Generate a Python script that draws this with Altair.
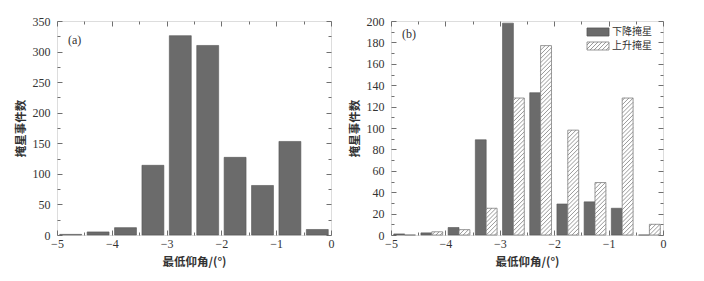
import altair as alt
import pandas as pd

# ---- data ----
bin_centers = [-4.75, -4.25, -3.75, -3.25, -2.75, -2.25, -1.75, -1.25, -0.75, -0.25]
total_counts = [1, 5, 12, 114, 326, 310, 127, 81, 153, 9]
down_counts = [1, 2, 7, 89, 198, 133, 29, 31, 25, 0]
up_counts = [0, 3, 5, 25, 128, 177, 98, 49, 128, 10]
series_names = ["下降掩星", "上升掩星"]

x_major = [-5, -4, -3, -2, -1, 0]
x_minor = [-4.5, -3.5, -2.5, -1.5, -0.5]
ya_major = [0, 50, 100, 150, 200, 250, 300, 350]
ya_minor = [25, 75, 125, 175, 225, 275, 325]
yb_major = [0, 20, 40, 60, 80, 100, 120, 140, 160, 180, 200]
yb_minor = [10, 30, 50, 70, 90, 110, 130, 150, 170, 190]

x_title = "最低仰角/(°)"
y_title = "掩星事件数"

# ---- styling ----
W_A, W_B, H = 274, 272, 214
HALF = 0.2
NUM_FONT = "Liberation Serif"
CJK_FONT = "Noto Sans CJK SC"
FRAME = "#8c8c8c"
TICK = "#707070"
TEXT = "#333333"
BAR_FILL = "#6b6b6b"
BAR_STROKE = "#555555"
HATCH = "#7d7d7d"

XS = alt.Scale(domain=[-5, 0], nice=False, zero=False)


def ax(orient, values, size, labels=False, title=None, **kw):
    props = dict(orient=orient, values=values, tickSize=size, offset=-size,
                 domain=False, grid=False, ticks=True, tickColor=TICK, tickWidth=1,
                 labels=labels, labelFlush=False, labelFont=NUM_FONT, labelFontSize=12,
                 labelColor=TEXT)
    if title is not None:
        props.update(title=title, titleFont=CJK_FONT, titleFontSize=11.5,
                     titleFontWeight="bold", titleColor=TEXT)
    props.update(kw)
    return alt.Axis(**props)


def axis_layers(ymax, ymaj, ymin):
    ys = alt.Scale(domain=[0, ymax], nice=False, zero=True)
    blank = alt.Chart(pd.DataFrame({"x": [-5.0], "y": [0.0]})).mark_point(opacity=0)
    l1 = blank.encode(
        x=alt.X("x:Q", scale=XS, axis=ax("bottom", x_major, 5, True, x_title,
                                          labelPadding=3, titlePadding=7)),
        y=alt.Y("y:Q", scale=ys, axis=ax("left", ymaj, 5, True, y_title,
                                          labelPadding=7, titlePadding=6)),
    )
    l2 = blank.encode(
        x=alt.X("x:Q", scale=XS, axis=ax("top", x_major, 5), title=None),
        y=alt.Y("y:Q", scale=ys, axis=ax("right", ymaj, 5), title=None),
    )
    l3 = blank.encode(
        x=alt.X("x:Q", scale=XS, axis=ax("bottom", x_minor, 3), title=None),
        y=alt.Y("y:Q", scale=ys, axis=ax("left", ymin, 3), title=None),
    )
    l4 = blank.encode(
        x=alt.X("x:Q", scale=XS, axis=ax("top", x_minor, 3), title=None),
        y=alt.Y("y:Q", scale=ys, axis=ax("right", ymin, 3), title=None),
    )
    return ys, [l1, l2, l3, l4]


def panel_label(txt, ypos):
    return alt.Chart(pd.DataFrame({"t": [txt]})).mark_text(
        font=NUM_FONT, fontSize=12, color=TEXT, align="left", baseline="middle"
    ).encode(x=alt.value(11), y=alt.value(ypos), text="t:N")


def bar_layer(df, ys, **mark):
    return alt.Chart(df).mark_bar(**mark).encode(
        x=alt.X("x0:Q", scale=XS, axis=None), x2="x1:Q",
        y=alt.Y("v:Q", scale=ys, axis=None), y2=alt.datum(0),
    )


# ---- panel (a) ----
df_a = pd.DataFrame({
    "x0": [c - HALF for c in bin_centers],
    "x1": [c + HALF for c in bin_centers],
    "v": total_counts,
})
ys_a, axes_a = axis_layers(350, ya_major, ya_minor)
bars_a = bar_layer(df_a, ys_a, fill=BAR_FILL, stroke=BAR_STROKE, strokeWidth=0.6)
panel_a = alt.layer(bars_a, *axes_a, panel_label("(a)", 19)).resolve_axis(
    x="independent", y="independent"
).properties(width=W_A, height=H)

# ---- panel (b) ----
df_down = pd.DataFrame({
    "x0": [c - HALF for c in bin_centers],
    "x1": list(bin_centers),
    "v": down_counts,
})
df_up = pd.DataFrame({
    "x0": list(bin_centers),
    "x1": [c + HALF for c in bin_centers],
    "v": up_counts,
})
ys_b, axes_b = axis_layers(200, yb_major, yb_minor)

# hatch segments derived from the hatched bars (45 deg in pixel space)
kx = W_B / 5.0
ky = H / 200.0
step = 4.2
hrows = []
for c, v in zip(bin_centers, up_counts):
    w = HALF * kx
    h = v * ky
    off = -w + step * 0.6
    while off < h:
        a = max(0.0, -off)
        b = min(w, h - off)
        if b > a:
            hrows.append({"hx": c + a / kx, "hy": (a + off) / ky,
                          "hx2": c + b / kx, "hy2": (b + off) / ky})
        off += step
df_hatch = pd.DataFrame(hrows)

bars_down = bar_layer(df_down, ys_b, fill=BAR_FILL, stroke=BAR_STROKE, strokeWidth=0.6)
bars_up = bar_layer(df_up, ys_b, fill="white", stroke=HATCH, strokeWidth=0.8)
hatch = alt.Chart(df_hatch).mark_rule(color=HATCH, strokeWidth=0.8).encode(
    x=alt.X("hx:Q", scale=XS, axis=None), x2="hx2:Q",
    y=alt.Y("hy:Q", scale=ys_b, axis=None), y2="hy2:Q",
)

# legend symbols (custom paths, 11px unit -> 22x8 px box): solid and hatched
SX, SY = 2.0, 0.73
rect_path = f"M{-SX},{-SY}H{SX}V{SY}H{-SX}Z"
hp = [rect_path]
dgap = 0.73
xb = -SX - 2 * SY + 0.55
while xb < SX:
    x0, y0 = xb, SY
    x1, y1 = xb + 2 * SY, -SY
    if x0 < -SX:
        y0 = SY - (-SX - x0)
        x0 = -SX
    if x1 > SX:
        y1 = -SY + (x1 - SX)
        x1 = SX
    if x1 > x0:
        hp.append(f" M{x0:.3f},{y0:.3f}L{x1:.3f},{y1:.3f}")
    xb += dgap
hatch_path = "".join(hp)

legend_df = pd.DataFrame({"s": series_names, "x": [-5.0, -5.0], "y": [0.0, 0.0]})
leg = alt.Legend(title=None, orient="none", legendX=201, legendY=5, padding=0,
                 labelFont=CJK_FONT, labelFontSize=10, labelColor=TEXT,
                 symbolSize=121, symbolStrokeWidth=0.8, rowPadding=2,
                 labelOffset=8, symbolOpacity=1)
legend_pts = alt.Chart(legend_df).mark_point(filled=True, strokeWidth=0.8).encode(
    x=alt.X("x:Q", scale=XS, axis=None),
    y=alt.Y("y:Q", scale=ys_b, axis=None),
    fill=alt.Fill("s:N", scale=alt.Scale(domain=series_names, range=[BAR_FILL, "white"]), legend=leg),
    stroke=alt.Stroke("s:N", scale=alt.Scale(domain=series_names, range=[BAR_STROKE, HATCH]), legend=leg),
    shape=alt.Shape("s:N", scale=alt.Scale(domain=series_names, range=[rect_path, hatch_path]), legend=leg),
).transform_filter("false")

panel_b = alt.layer(bars_down, bars_up, hatch, *axes_b, legend_pts, panel_label("(b)", 13)).resolve_axis(
    x="independent", y="independent"
).properties(width=W_B, height=H)

chart = alt.hconcat(panel_a, panel_b, spacing=13).resolve_scale(
    fill="independent", shape="independent", stroke="independent"
).properties(
    padding={"left": 6, "top": 6, "right": 5, "bottom": 5}
).configure_view(stroke=FRAME, strokeWidth=1).configure(background="white")

chart.save("out.html", embed_options={"renderer": "svg", "actions": False})
